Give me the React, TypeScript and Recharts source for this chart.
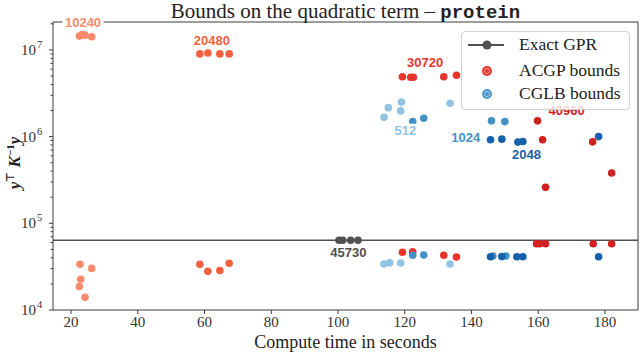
import React from "react";
import { ScatterChart, Scatter, XAxis, YAxis, ReferenceLine } from "recharts";

type Pt = [number, number];

// exact GPR value (horizontal line) and its compute times
const exactGprValue = 63700;
const exactGpr: Pt[] = [[100.3, 63700], [101.4, 63700], [103.8, 63700], [106, 63700]];

// ACGP bounds, [seconds, value]
const acgp10240Upper: Pt[] = [[22.5, 1.45e7], [23.3, 1.5e7], [24.2, 1.48e7], [26.2, 1.42e7]];
const acgp10240Lower: Pt[] = [[22.7, 33600], [26.2, 30200], [22.9, 22600], [22.5, 18700], [24.2, 14000]];
const acgp20480Upper: Pt[] = [[58.6, 9.0e6], [61, 9.2e6], [64.6, 9.0e6], [67.4, 9.0e6]];
const acgp20480Lower: Pt[] = [[58.6, 33600], [61, 27900], [64.6, 28600], [67.4, 34600]];
const acgp30720Upper: Pt[] = [[119.3, 4.9e6], [121.8, 4.85e6], [122.6, 4.85e6], [131.7, 4.9e6], [135.5, 5.1e6]];
const acgp30720Lower: Pt[] = [[119.3, 46400], [122.4, 47000], [131.7, 42800], [135.5, 40800]];
const acgp40960Upper: Pt[] = [[159.8, 1.52e6], [161.3, 9.2e5], [162.2, 2.6e5], [176.3, 8.7e5], [182, 3.8e5]];
const acgp40960Lower: Pt[] = [[159.5, 58100], [160.4, 58100], [162.2, 58100], [176.5, 58100], [182, 58100]];

// CGLB bounds
const cglb512Upper: Pt[] = [[119, 2.5e6], [115.1, 2.16e6], [118.8, 1.98e6], [113.8, 1.67e6], [133.6, 2.43e6]];
const cglb512Lower: Pt[] = [[113.8, 34000], [115.5, 35000], [118.8, 34900], [133.6, 34000]];
const cglb1024Upper: Pt[] = [[122.4, 1.49e6], [125.7, 1.63e6], [146, 1.52e6], [150, 1.49e6]];
const cglb1024Lower: Pt[] = [[122.4, 42800], [125.7, 43100], [146.4, 42000], [150.3, 42000]];
const cglb2048Upper: Pt[] = [[145.7, 9.2e5], [149.1, 9.35e5], [153.9, 8.65e5], [155.4, 8.8e5], [178.1, 1.0e6]];
const cglb2048Lower: Pt[] = [[145.7, 41100], [149.1, 41300], [153.6, 41100], [155.4, 41100], [178.1, 41100]];

// annotations
const labelText = ["10240", "20480", "30720", "40960", "512", "1024", "2048", "45730"];
const labelTime = [23.6, 62.2, 126.1, 168.5, 120.2, 138.3, 156.5, 103.1];
const labelValue = [2.1e7, 1.3e7, 7.14e6, 2.0e6, 1.17e6, 9.85e5, 6.3e5, 46600];

const xTicks = [20, 40, 60, 80, 100, 120, 140, 160, 180];
const xDomain: [number, number] = [14.6, 189.9];
const yDomain: [number, number] = [1e4, 2.1e7];

const colors: Record<string, string> = {
  "10240": "#fb8a6c",
  "20480": "#f5603f",
  "30720": "#e8352c",
  "40960": "#d0201f",
  "512": "#92c3e2",
  "1024": "#4292c6",
  "2048": "#1761aa",
  "45730": "#505050",
};

const yTicks: number[] = [];
for (let e = 4; e <= 7; e++) {
  for (let m = 1; m <= 9; m++) {
    const v = m * Math.pow(10, e);
    if (v <= yDomain[1]) yTicks.push(v);
  }
}

const toObjs = (pts: Pt[]) => pts.map(([x, y]) => ({ x, y }));
const labelData = labelText.map((t, i) => ({ x: labelTime[i], y: labelValue[i], t }));

const serif = "'Liberation Serif', 'Times New Roman', serif";
const frame = "#3a3a3a";

function LogTick(props: any) {
  const { x, y, payload } = props;
  const lg = Math.log10(payload.value);
  const exp = Math.round(lg);
  const major = Math.abs(lg - exp) < 1e-6;
  return (
    <g>
      <line x1={x - (major ? 4 : 2.5)} x2={x} y1={y} y2={y} stroke={frame} strokeWidth={1} />
      {major && (
        <text x={x - 17} y={y + 5} textAnchor="end" fontFamily={serif} fontSize={15} fill="#333">
          10
        </text>
      )}
      {major && (
        <text x={x - 16} y={y - 2} textAnchor="start" fontFamily={serif} fontSize={10.5} fill="#333">
          {exp}
        </text>
      )}
    </g>
  );
}

function LabelShape(props: any) {
  const { cx, cy, payload } = props;
  const t: string = payload.t;
  const w = t.length * 7.4 + 4;
  return (
    <g>
      <rect x={cx - w / 2} y={cy - 7} width={w} height={14} fill="#fff" />
      <text
        x={cx}
        y={cy + 4.6}
        textAnchor="middle"
        fontFamily="'Liberation Sans', Arial, sans-serif"
        fontWeight="bold"
        fontSize={13}
        fill={colors[t]}
      >
        {t}
      </text>
    </g>
  );
}

const dot = (fill: string) => (p: any) => <circle cx={p.cx} cy={p.cy} r={3.8} fill={fill} />;

const series: [Pt[], string][] = [
  [acgp10240Upper, colors["10240"]],
  [acgp10240Lower, colors["10240"]],
  [acgp20480Upper, colors["20480"]],
  [acgp20480Lower, colors["20480"]],
  [acgp30720Upper, colors["30720"]],
  [acgp30720Lower, colors["30720"]],
  [acgp40960Upper, colors["40960"]],
  [acgp40960Lower, colors["40960"]],
  [cglb512Upper, colors["512"]],
  [cglb512Lower, colors["512"]],
  [cglb1024Upper, colors["1024"]],
  [cglb1024Lower, colors["1024"]],
  [cglb2048Upper, colors["2048"]],
  [cglb2048Lower, colors["2048"]],
  [exactGpr, colors["45730"]],
];

function LegendBox() {
  const row = (y: number, label: string, marker: React.ReactNode) => (
    <div style={{ position: "absolute", left: 0, top: y - 12, height: 24, width: 170 }}>
      <svg width={50} height={24} style={{ position: "absolute", left: 0, top: 0 }}>
        {marker}
      </svg>
      <span
        style={{
          position: "absolute",
          left: 57,
          top: 3,
          fontFamily: serif,
          fontSize: 17.5,
          lineHeight: "17px",
          color: "#222",
          whiteSpace: "nowrap",
        }}
      >
        {label}
      </span>
    </div>
  );
  return (
    <div
      style={{
        position: "absolute",
        left: 461,
        top: 31,
        width: 169,
        height: 79,
        background: "rgba(255,255,255,0.8)",
        border: "1px solid #d0d0d0",
        borderRadius: 4,
        boxSizing: "border-box",
      }}
    >
      {row(
        13,
        "Exact GPR",
        <g>
          <line x1={6} x2={42} y1={12} y2={12} stroke="#505050" strokeWidth={1.8} />
          <circle cx={25} cy={12} r={4.5} fill="#505050" />
        </g>
      )}
      {row(
        39,
        "ACGP bounds",
        <g>
          <circle cx={25} cy={12} r={5} fill="#e8352c" />
          <circle cx={25} cy={12} r={2.6} fill="none" stroke="#f79a8a" strokeWidth={1} />
        </g>
      )}
      {row(
        62,
        "CGLB bounds",
        <g>
          <circle cx={25} cy={12} r={5} fill="#4a98cb" />
          <circle cx={25} cy={12} r={2.6} fill="none" stroke="#9ecae1" strokeWidth={1} />
        </g>
      )}
    </div>
  );
}

export default function App() {
  return (
    <div style={{ position: "absolute", left: 0, top: 0, width: 640, height: 353, background: "#fff" }}>
      <ScatterChart width={640} height={353} margin={{ top: 22, right: 2, bottom: 23, left: 8 }}>
        <XAxis
          type="number"
          dataKey="x"
          domain={xDomain}
          ticks={xTicks}
          height={20}
          stroke={frame}
          tickSize={4}
          tick={{ fontFamily: serif, fontSize: 15, fill: "#333" }}
        />
        <YAxis
          type="number"
          dataKey="y"
          scale="log"
          domain={yDomain}
          ticks={yTicks}
          width={45}
          stroke={frame}
          tickLine={false}
          tickSize={0}
          tickMargin={0}
          interval={0}
          tick={<LogTick />}
        />
        <ReferenceLine y={yDomain[1]} stroke={frame} strokeWidth={1} />
        <ReferenceLine x={xDomain[1]} stroke={frame} strokeWidth={1} />
        <ReferenceLine y={exactGprValue} stroke="#505050" strokeWidth={1.5} />
        {series.map(([pts, c], i) => (
          <Scatter key={i} data={toObjs(pts)} fill={c} shape={dot(c)} isAnimationActive={false} />
        ))}
        <Scatter data={labelData} shape={<LabelShape />} isAnimationActive={false} />
      </ScatterChart>

      <div
        style={{
          position: "absolute",
          left: 53,
          top: 0,
          width: 585,
          textAlign: "center",
          fontFamily: serif,
          fontSize: 21,
          color: "#222",
          lineHeight: "22px",
        }}
      >
        Bounds on the quadratic term –{" "}
        <span style={{ fontFamily: "'Liberation Mono', 'DejaVu Sans Mono', monospace", fontWeight: "bold", fontSize: 19 }}>
          protein
        </span>
      </div>

      <div
        style={{
          position: "absolute",
          left: 53,
          top: 331,
          width: 585,
          textAlign: "center",
          fontFamily: serif,
          fontSize: 18,
          color: "#222",
          lineHeight: "22px",
        }}
      >
        Compute time in seconds
      </div>

      <svg width={40} height={353} style={{ position: "absolute", left: 0, top: 0 }}>
        <text
          transform="translate(20,163) rotate(-90)"
          textAnchor="middle"
          fontFamily={serif}
          fontWeight="bold"
          fontStyle="italic"
          fontSize={17}
          fill="#222"
        >
          y<tspan dy={-6} fontSize={11} fontStyle="normal">⊤</tspan>
          <tspan dy={6}> K</tspan>
          <tspan dy={-6} fontSize={11} fontStyle="normal">−1</tspan>
          <tspan dy={6}>y</tspan>
        </text>
      </svg>

      <LegendBox />
    </div>
  );
}
